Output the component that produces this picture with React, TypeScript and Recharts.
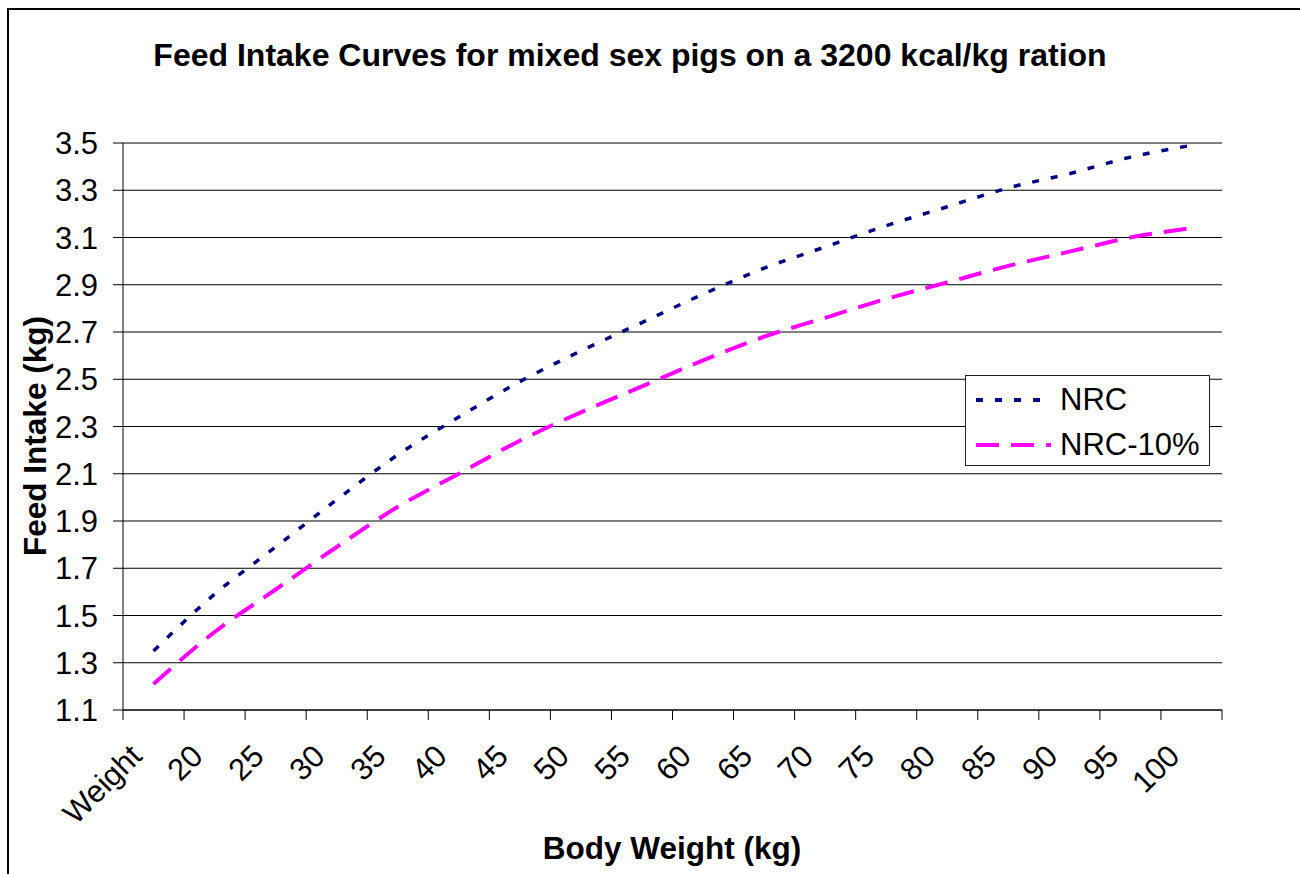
import { LineChart, Line, XAxis, YAxis, CartesianGrid, Legend } from 'recharts'

// body weight categories along the bottom
const weights = ['Weight', '20', '25', '30', '35', '40', '45', '50', '55', '60', '65', '70', '75', '80', '85', '90', '95', '100']

// feed intake (kg / day)
const nrc = [1.35, 1.59, 1.79, 1.99, 2.18, 2.34, 2.49, 2.62, 2.74, 2.86, 2.97, 3.06, 3.15, 3.23, 3.31, 3.37, 3.44, 3.49]
const nrcMinus10 = [1.21, 1.43, 1.61, 1.79, 1.96, 2.10, 2.24, 2.36, 2.47, 2.58, 2.68, 2.76, 2.84, 2.91, 2.98, 3.04, 3.10, 3.14]

const yTicks = [1.1, 1.3, 1.5, 1.7, 1.9, 2.1, 2.3, 2.5, 2.7, 2.9, 3.1, 3.3, 3.5]

const seriesNames = ['NRC', 'NRC-10%']
const seriesColors = ['#000080', '#ff00ff']
const seriesDash = ['7 12', '23 12']

const data = weights.map((w, i) => ({ idx: i, weight: w, nrc: nrc[i], nrc10: nrcMinus10[i] }))

// label ticks at category centres, tick marks between categories (Excel style)
const xTicks: number[] = []
weights.forEach((_, i) => { xTicks.push(i - 0.5); xTicks.push(i) })
xTicks.push(weights.length - 0.5)

const FONT = '"Liberation Sans", Arial, sans-serif'

function WeightTick({ x, y, payload }: any) {
  const v = payload.value
  if (!Number.isInteger(v)) {
    return <line x1={x} y1={y - 10} x2={x} y2={y} stroke="#000" strokeWidth={1} />
  }
  const tx = x - 10
  const ty = y + 38
  return (
    <text x={tx} y={ty} transform={`rotate(-45, ${tx}, ${ty})`} textAnchor="end" fontSize={31} fontFamily={FONT} fill="#000">
      {weights[v]}
    </text>
  )
}

function LegendBox() {
  return (
    <div style={{ width: 245, height: 91, boxSizing: 'border-box', border: '1.5px solid #222', background: '#fff', fontFamily: FONT }}>
      {seriesNames.map((name, i) => (
        <div key={name} style={{ position: 'absolute', left: 0, top: 8 + i * 45, height: 34, display: 'flex', alignItems: 'center' }}>
          <svg width={86} height={34} style={{ display: 'block' }}>
            <line x1={11} y1={17} x2={86} y2={17} stroke={seriesColors[i]} strokeWidth={4} strokeDasharray={seriesDash[i]} />
          </svg>
          <span style={{ marginLeft: 9, fontSize: 31, lineHeight: '34px', color: '#000' }}>{name}</span>
        </div>
      ))}
    </div>
  )
}

export default function App() {
  return (
    <div style={{ position: 'fixed', left: 0, top: 0, width: 1300, height: 874, overflow: 'hidden', background: '#fff', fontFamily: FONT }}>
      {/* chart area frame, runs off the page on the right and bottom */}
      <div style={{ position: 'absolute', left: 7, top: 8, width: 1400, height: 1000, borderTop: '2px solid #000', borderLeft: '2px solid #000' }} />

      <div style={{ position: 'absolute', left: 0, top: 40, width: 1260, textAlign: 'center', fontSize: 32, lineHeight: '31px', fontWeight: 'bold', whiteSpace: 'nowrap' }}>
        Feed Intake Curves for mixed sex pigs on a 3200 kcal/kg ration
      </div>

      <div style={{ position: 'absolute', left: 0, top: 0 }}>
        <LineChart width={1300} height={874} data={data} margin={{ top: 143, right: 78, bottom: 0, left: 0 }}>
          <CartesianGrid vertical={false} stroke="#000" strokeWidth={1} xAxisId="x" yAxisId="y" />
          <XAxis
            xAxisId="x"
            dataKey="idx"
            type="number"
            domain={[-0.5, weights.length - 0.5]}
            ticks={xTicks}
            interval={0}
            height={164}
            tickSize={10}
            tickMargin={0}
            tickLine={false}
            axisLine={{ stroke: '#000', strokeWidth: 1 }}
            tick={<WeightTick />}
          />
          <XAxis xAxisId="top" dataKey="idx" type="number" orientation="top" domain={[-0.5, weights.length - 0.5]} height={0} tick={false} tickLine={false} axisLine={{ stroke: '#808080', strokeWidth: 1.5 }} />
          <YAxis
            yAxisId="y"
            domain={[1.1, 3.5]}
            ticks={yTicks}
            interval={0}
            width={123}
            tickSize={10}
            tickMargin={15}
            tickLine={{ stroke: '#000' }}
            axisLine={{ stroke: '#000', strokeWidth: 1 }}
            tick={{ fill: '#000', fontSize: 31, fontFamily: FONT }}
            tickFormatter={(v: number) => v.toFixed(1)}
          />
          <YAxis yAxisId="right" orientation="right" width={0} tick={false} tickLine={false} axisLine={{ stroke: '#808080', strokeWidth: 1.5 }} />
          <Legend
            layout="vertical"
            align="center"
            verticalAlign="middle"
            wrapperStyle={{ left: 965, top: 375, width: 245, height: 91 }}
            content={<LegendBox />}
          />
          <Line
            xAxisId="x"
            yAxisId="y"
            type="monotone"
            dataKey="nrc"
            name={seriesNames[0]}
            stroke={seriesColors[0]}
            strokeWidth={3.5}
            strokeDasharray={seriesDash[0]}
            dot={false}
            isAnimationActive={false}
          />
          <Line
            xAxisId="x"
            yAxisId="y"
            type="monotone"
            dataKey="nrc10"
            name={seriesNames[1]}
            stroke={seriesColors[1]}
            strokeWidth={4}
            strokeDasharray={seriesDash[1]}
            dot={false}
            isAnimationActive={false}
          />
        </LineChart>
      </div>

      <div style={{ position: 'absolute', left: 35, top: 436, transform: 'translate(-50%, -50%) rotate(-90deg)', fontSize: 31.5, lineHeight: '31px', fontWeight: 'bold', whiteSpace: 'nowrap' }}>
        Feed Intake (kg)
      </div>

      <div style={{ position: 'absolute', left: 372, top: 833, width: 600, textAlign: 'center', fontSize: 31.5, lineHeight: '31px', fontWeight: 'bold', whiteSpace: 'nowrap' }}>
        Body Weight (kg)
      </div>
    </div>
  )
}
